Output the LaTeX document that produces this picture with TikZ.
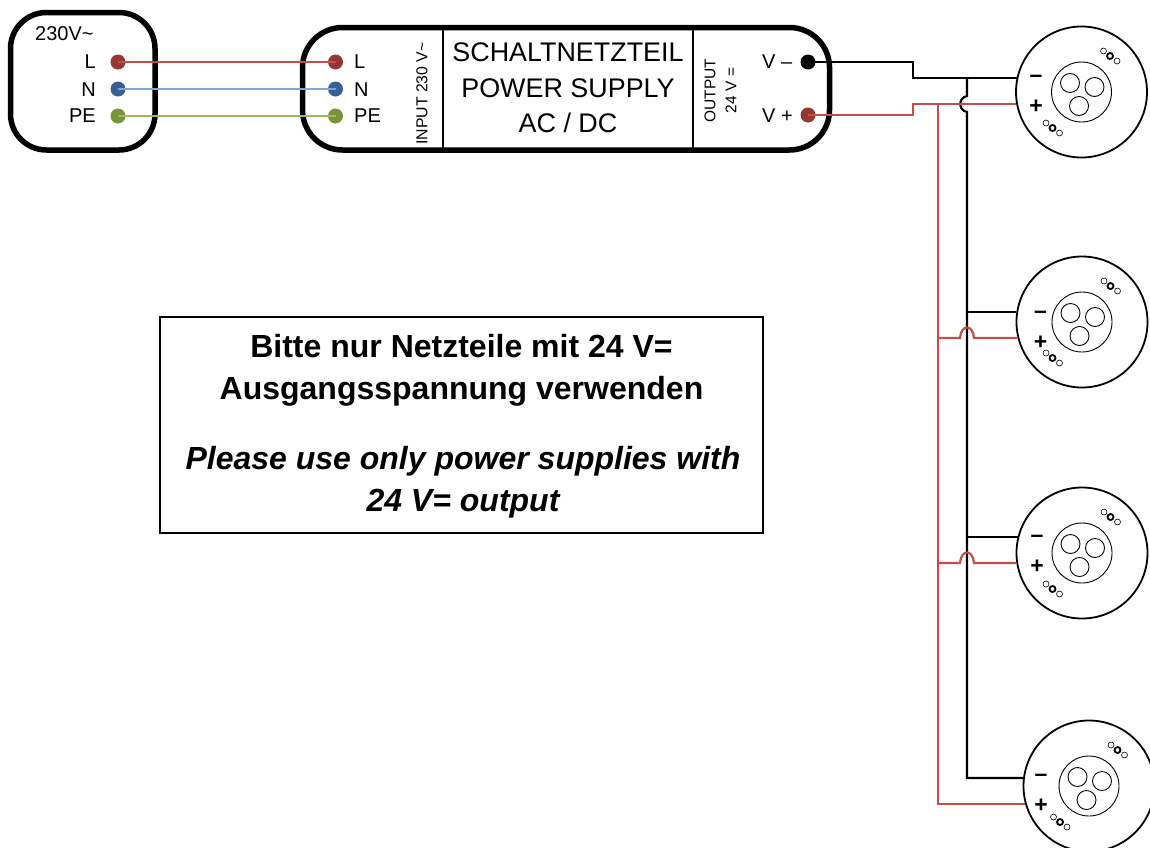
\documentclass[tikz,border=0pt]{standalone}
\usepackage{fontspec}
\setmainfont{Liberation Sans}
\definecolor{dotred}{HTML}{953735}
\definecolor{dotblue}{HTML}{376092}
\definecolor{dotgreen}{HTML}{77933C}
\definecolor{wirered}{HTML}{C0504D}
\definecolor{wireblue}{HTML}{7FA6D6}
\definecolor{wiregreen}{HTML}{9BBB59}
\tikzset{
  housing/.style={draw,line width=5.5pt,rounded corners=36pt},
  terminal/.style={circle,fill=#1,minimum size=15pt,inner sep=0pt},
  wire/.style={line width=2.2pt,line join=miter},
  label/.style={font=\fontsize{20}{22}\selectfont,inner sep=0pt},
  lamp/.style={circle,draw,line width=1.8pt,minimum size=131pt,inner sep=0pt},
  lens/.style={circle,draw,line width=0.9pt,inner sep=0pt,minimum size=#1},
  tiny/.style={circle,draw,line width=#1,inner sep=0pt,minimum size=6pt},
  sign/.style={font=\bfseries\fontsize{23}{24}\selectfont,inner sep=0pt},
  note/.style={font=\bfseries\fontsize{32}{42.5}\selectfont,align=center,inner sep=0pt},
  title/.style={font=\fontsize{26.9}{30}\selectfont,inner sep=0pt},
}
\begin{document}
\begin{tikzpicture}[x=1pt,y=-1pt]
\useasboundingbox (0,0) rectangle (1150,847);
% mains socket
\draw[housing] (10.5,12.5) rectangle (155,150);
\node[label,anchor=west] (mains) at (35,34) {230V\textasciitilde};
\node[terminal=dotred] (sockL) at (118,62) {};
\node[terminal=dotblue] (sockN) at (118,89) {};
\node[terminal=dotgreen] (sockPE) at (118,116) {};
\node[label,anchor=east] (sockLt) at (96,62) {L};
\node[label,anchor=east] (sockNt) at (96,89.5) {N};
\node[label,anchor=east] (sockPEt) at (96,116) {PE};
% power supply
\draw[housing,rounded corners=40pt] (302.5,27.5) rectangle (829.5,150);
\draw[line width=1.5pt] (443,27.5) -- (443,150);
\draw[line width=1.5pt] (693,27.5) -- (693,150);
\node[terminal=dotred] (psuL) at (335.5,62) {};
\node[terminal=dotblue] (psuN) at (335.5,89) {};
\node[terminal=dotgreen] (psuPE) at (335.5,116) {};
\node[label,anchor=west] (psuLt) at (354,62) {L};
\node[label,anchor=west] (psuNt) at (354,89.5) {N};
\node[label,anchor=west] (psuPEt) at (354,116) {PE};
\node[rotate=90,inner sep=0pt,font=\fontsize{15.8}{17}\selectfont] (input) at (422,93.5) {INPUT 230 V\textasciitilde};
\node[title] (title1) at (568,52) {SCHALTNETZTEIL};
\node[title] (title2) at (568,88.5) {POWER SUPPLY};
\node[title] (title3) at (568,122.5) {AC / DC};
\node[rotate=90,inner sep=0pt,align=center,font=\fontsize{15.5}{21}\selectfont] (output) at (720.5,90.5) {OUTPUT\\24 V =};
\node[label,anchor=west] (vminust) at (762,62) {V –};
\node[label,anchor=west] (vplust) at (762,116) {V +};
\node[terminal=black] (vminus) at (808,62) {};
\node[terminal=dotred] (vplus) at (808,115) {};
% lamps
\foreach \name/\cx/\cy/\mx/\my/\px/\py/\lx/\ly in {
  lampa/1081.5/92/1036/79/1036/107/1052.5/128,
  lampb/1082/322/1040.5/315/1040.5/343/1052.5/358,
  lampc/1082/553/1037/539/1037/567/1052.5/589,
  lampd/1089/786/1041/778/1041/806/1060/822}{
  \node[lamp] (\name) at (\cx,\cy) {};
  \node[lens=60pt] (\name ring) at (\cx,\cy) {};
  \node[lens=19pt] (\name a) at (\cx-11.5,\cy-9) {};
  \node[lens=19pt] (\name b) at (\cx+13,\cy-5) {};
  \node[lens=19pt] (\name c) at (\cx-2.5,\cy+14) {};
  \node[tiny=1.8pt] (\name d) at (\cx+28.5,\cy-36) {};
  \node[tiny=0.6pt] (\name e) at (\cx+22,\cy-41) {};
  \node[tiny=0.6pt] (\name f) at (\cx+35.5,\cy-31) {};
  \node[tiny=1.8pt] (\name g) at (\lx,\ly) {};
  \node[tiny=0.6pt] (\name h) at (\lx-6.5,\ly-5) {};
  \node[tiny=0.6pt] (\name i) at (\lx+7,\ly+5) {};
  \node[sign] (\name m) at (\mx,\my) {–};
  \node[sign] (\name p) at (\px,\py) {+};
}
% mains wires
\draw[wire,wirered] (sockL.center) -- (psuL.center);
\draw[wire,wireblue] (sockN.center) -- (psuN.center);
\draw[wire,wiregreen] (sockPE.center) -- (psuPE.center);
% low voltage wires
\coordinate (stepm) at (913,78);
\coordinate (stepp) at (913,104);
\coordinate (busm) at (967,78);
\coordinate (busp) at (938,104);
\coordinate (endm) at (967,778);
\coordinate (endp) at (938,804);
\coordinate (tapbm) at (967,312);
\coordinate (tapbp) at (938,338);
\coordinate (hopb) at (974,338);
\coordinate (tapcm) at (967,537);
\coordinate (tapcp) at (938,563);
\coordinate (hopc) at (974,563);
\draw[wire,black] (vminus.center) -- (vminus.center -| stepm) -- (stepm) -- (stepm -| lampa.168);
\draw[wire,black] (busm) -- (967,96) .. controls (958,98) and (958,110) .. (967,112) -- (endm) -- (endm -| lampd.173);
\draw[wire,wirered] (vplus.center) -- (vplus.center -| stepp) -- (stepp) -- (stepp -| lampa.190);
\draw[wire,wirered] (busp) -- (endp) -- (endp -| lampd.196);
\draw[wire,black] (tapbm) -- (tapbm -| lampb.171);
\draw[wire,wirered] (tapbp) -- (960,338) .. controls (961,324) and (973,324) .. (hopb) -- (hopb -| lampb.194);
\draw[wire,black] (tapcm) -- (tapcm -| lampc.166);
\draw[wire,wirered] (tapcp) -- (960,563) .. controls (961,549) and (973,549) .. (hopc) -- (hopc -| lampc.189);
% note
\draw[line width=1.5pt] (160,317) rectangle (763,533);
\node[note] (notede) at (461.5,370.5) {Bitte nur Netzteile mit 24 V=\\Ausgangsspannung verwenden};
\node[note,font=\bfseries\itshape\fontsize{32}{42.5}\selectfont] (noteen) at (463,482) {Please use only power supplies with\\24 V= output};
\end{tikzpicture}
\end{document}
